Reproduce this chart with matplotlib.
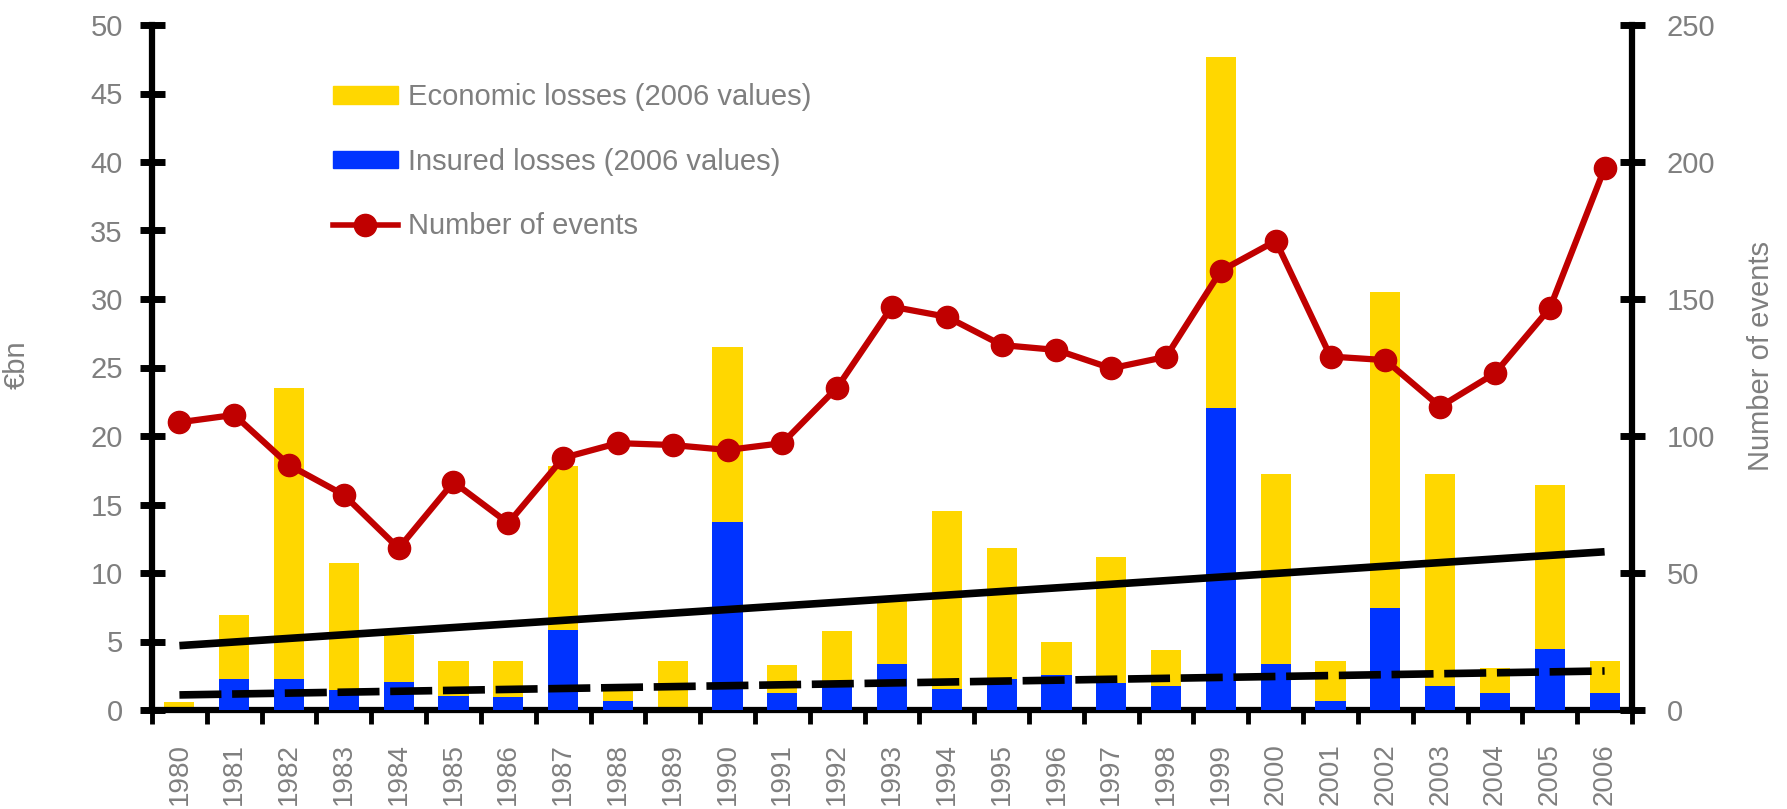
import numpy as np
import matplotlib
matplotlib.use("Agg")
from matplotlib import pyplot as plt
from matplotlib.patches import Patch
from matplotlib.lines import Line2D

plt.rcParams['font.family'] = ['Liberation Sans', 'DejaVu Sans']

# data
years = [str(y) for y in range(1980, 2007)]
econ = [0.6, 6.9, 23.5, 10.7, 5.5, 3.6, 3.6, 17.8, 1.75, 3.6, 26.5, 3.3, 5.8, 8.0,
        14.5, 11.8, 5.0, 11.2, 4.4, 47.7, 17.2, 3.6, 30.5, 17.2, 3.1, 16.4, 3.6]
insured = [0.0, 2.24, 2.24, 1.43, 2.04, 1.0, 0.95, 5.83, 0.63, 0.0, 13.7, 1.21, 1.75, 3.33,
           1.5, 2.24, 2.53, 1.99, 1.75, 22.06, 3.33, 0.63, 7.41, 1.72, 1.21, 4.42, 1.21]
events = [105, 107.7, 89.4, 78.5, 59, 83.2, 68.2, 92, 97.4, 96.7, 94.9, 97.4, 117.7, 147.2,
          143.5, 133.2, 131.4, 124.7, 128.9, 160.3, 171.2, 129, 127.7, 110.7, 122.9, 146.6, 197.7]
econ_trend = [4.7, 11.55]     # start / end of the linear trend
insured_trend = [1.1, 2.85]

yellow = '#FFD700'
blue = '#0033FF'
red = '#C00000'
grey = '#7F7F7F'

x = np.arange(len(years))
fig = plt.figure(figsize=(17.87, 8.09), dpi=100)
ax = fig.add_axes([152/1787, 1-710/809, 1480/1787, 685/809])
ax.bar(x, econ, width=0.55, color=yellow, zorder=2)
ax.bar(x, insured, width=0.55, color=blue, zorder=3)
ax.plot([x[0], x[-1]], econ_trend, color='black', lw=5.5, zorder=4, solid_capstyle='butt')
ax.plot([x[0], x[-1]], insured_trend, color='black', lw=5.5, zorder=4,
        dashes=(5.5, 1.4), dash_capstyle='butt')

ax.set_xlim(-0.5, len(years) - 0.5)
ax.set_ylim(0, 50)
ax.set_yticks(np.arange(0, 51, 5))
ax.set_xticks(np.arange(len(years) + 1) - 0.5)
ax.set_xticklabels([])
ax.set_xticks(x, minor=True)
ax.set_xticklabels(years, minor=True, rotation=90)
ax.tick_params(axis='x', which='major', direction='out', length=10, width=3.5, color='black')
ax.tick_params(axis='x', which='minor', length=0, pad=24, labelsize=20, labelcolor=grey)
ax.tick_params(axis='y', direction='inout', length=18, width=5, pad=12,
               labelsize=21, labelcolor=grey)
for s in ['top', 'right']:
    ax.spines[s].set_visible(False)
for s in ['left', 'bottom']:
    ax.spines[s].set_linewidth(4.5)

ax2 = ax.twinx()
ax2.plot(x, events, color=red, lw=4.5, marker='o', markersize=16, zorder=5)
ax2.set_ylim(0, 250)
ax2.set_yticks(np.arange(0, 251, 50))
ax2.tick_params(axis='y', direction='inout', length=18, width=5, pad=16,
                labelsize=21, labelcolor=grey)
for s in ['top', 'left', 'bottom']:
    ax2.spines[s].set_visible(False)
ax2.spines['right'].set_linewidth(4.5)

handles = [Patch(color=yellow), Patch(color=blue),
           Line2D([], [], color=red, lw=4, marker='o', markersize=16)]
labels = ['Economic losses (2006 values)', 'Insured losses (2006 values)', 'Number of events']
leg = ax2.legend(handles, labels, loc='upper left', bbox_to_anchor=(0.122, 0.915),
                 frameon=False, fontsize=21, handlelength=2.25, handleheight=0.55,
                 handletextpad=0.35, labelspacing=1.25, borderpad=0, borderaxespad=0)
for t in leg.get_texts():
    t.set_color(grey)

fig.text(17/1787, 1-365/809, '€bn', rotation=90, ha='center', va='center',
         fontsize=21, color=grey)
fig.text(1761/1787, 1-356/809, 'Number of events', rotation=90, ha='center', va='center',
         fontsize=21, color=grey)

fig.savefig('out.png', dpi=100)
